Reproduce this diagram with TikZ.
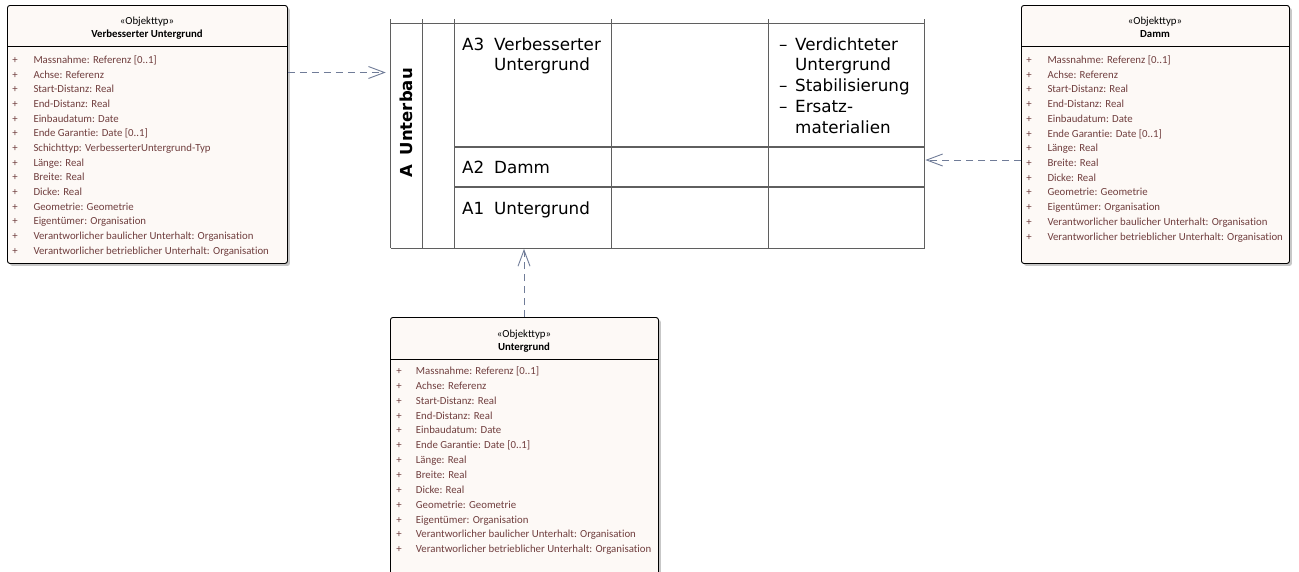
\documentclass[tikz,border=0pt]{standalone}
\usepackage{fontspec}
\setmainfont{Carlito}[Ligatures=NoCommon]
\newfontfamily\tabfont{DejaVu Sans}
\usetikzlibrary{arrows.meta,shadows}
\definecolor{boxfill}{RGB}{253,249,246}
\definecolor{attrtext}{RGB}{112,62,62}
\definecolor{linkcol}{RGB}{112,124,152}
\definecolor{gridcol}{RGB}{95,95,95}

\begin{document}
\begin{tikzpicture}[x=1pt,y=-1pt,
  umlbox/.style={draw=black, line width=0.9pt, fill=boxfill, rounded corners=2.5pt,
    inner sep=0pt, anchor=north west,
    drop shadow={shadow xshift=2.5pt, shadow yshift=-2.5pt, fill=black!22, opacity=1}},
  umltext/.style={inner sep=0pt, font=\fontsize{10.8}{13}\selectfont},
  stereo/.style={umltext, anchor=base},
  attr/.style={umltext, anchor=base west, text=attrtext},
  plus/.style={umltext, anchor=base, text=attrtext},
  grid/.style={draw=gridcol, line width=1.1pt},
  cell/.style={inner sep=0pt, anchor=base west, font=\tabfont\fontsize{16.75}{20.8}\selectfont},
  link/.style={draw=linkcol, line width=0.9pt, dash pattern=on 7pt off 5pt,
    -{Straight Barb[length=16pt, width=12pt, line width=0.9pt]}}
]
\useasboundingbox[fill=white] (0,0) rectangle (1299,571);

% ---------- layer table ----------
\node[inner sep=0pt, minimum width=533.8pt, minimum height=224.7pt, anchor=north west] (tab) at (390.7,23.3) {};
\foreach \x in {390.7,422.7,454.5,611.5,768.3,924.5}
  \draw[grid] (\x,19) -- (\x,248);
\draw[grid] (tab.north west) -- (tab.north east);
\draw[grid] (tab.south west) -- (tab.south east);
\draw[grid] (454.5,147) -- (924.5,147);
\draw[grid] (454.5,187) -- (924.5,187);

\node[cell, rotate=90, font=\tabfont\bfseries\fontsize{16.5}{20}\selectfont] (unterbau) at (412,178) {A\hspace{4pt} Unterbau};

\node[cell] (a3) at (462,50) {A3};
\node[cell] (a3t1) at (494,50) {Verbesserter};
\node[cell] (a3t2) at (494,70.8) {Untergrund};
\node[cell] (a2) at (462,173) {A2};
\node[cell] (a2t) at (494,173) {Damm};
\node[cell] (a1) at (462,214) {A1};
\node[cell] (a1t) at (494,214) {Untergrund};

\node[cell] (d1) at (779,50) {–};
\node[cell] (r1) at (795,50) {Verdichteter};
\node[cell] (r2) at (795,70.8) {Untergrund};
\node[cell] (d2) at (779,91.6) {–};
\node[cell] (r3) at (795,91.6) {Stabilisierung};
\node[cell] (d3) at (779,112.4) {–};
\node[cell] (r4) at (795,112.4) {Ersatz-};
\node[cell] (r5) at (795,133.2) {materialien};

% ---------- class: Verbesserter Untergrund ----------
\node[umlbox, minimum width=280pt, minimum height=258pt] (vu) at (7,5) {};
\draw[line width=0.9pt] (7,46) -- (287,46);
\node[stereo] (vu-st) at (147,24) {«Objekttyp»};
\node[stereo, font=\fontsize{10.8}{13}\selectfont\bfseries] (vu-nm) at (147,37.5) {Verbesserter Untergrund};
\foreach \t [count=\i from 0] in {%
  {Massnahme: Referenz [0..1]}, {Achse: Referenz}, {Start-Distanz: Real},
  {End-Distanz: Real}, {Einbaudatum: Date}, {Ende Garantie: Date [0..1]},
  {Schichttyp: VerbesserterUntergrund-Typ}, {Länge: Real}, {Breite: Real},
  {Dicke: Real}, {Geometrie: Geometrie}, {Eigentümer: Organisation},
  {Verantworlicher baulicher Unterhalt: Organisation},
  {Verantworlicher betrieblicher Unterhalt: Organisation}} {
  \node[plus] (vu-p\i) at (15,63.5+14.67*\i) {+};
  \node[attr] (vu-a\i) at (33.3,63.5+14.67*\i) {\t};
}

% ---------- class: Damm ----------
\node[umlbox, minimum width=268pt, minimum height=258pt] (damm) at (1021,5) {};
\draw[line width=0.9pt] (1021,46) -- (1289,46);
\node[stereo] (damm-st) at (1155,24) {«Objekttyp»};
\node[stereo, font=\fontsize{10.8}{13}\selectfont\bfseries] (damm-nm) at (1155,37.5) {Damm};
\foreach \t [count=\i from 0] in {%
  {Massnahme: Referenz [0..1]}, {Achse: Referenz}, {Start-Distanz: Real},
  {End-Distanz: Real}, {Einbaudatum: Date}, {Ende Garantie: Date [0..1]},
  {Länge: Real}, {Breite: Real}, {Dicke: Real}, {Geometrie: Geometrie},
  {Eigentümer: Organisation},
  {Verantworlicher baulicher Unterhalt: Organisation},
  {Verantworlicher betrieblicher Unterhalt: Organisation}} {
  \node[plus] (damm-p\i) at (1029,63.5+14.72*\i) {+};
  \node[attr] (damm-a\i) at (1047.3,63.5+14.72*\i) {\t};
}

% ---------- class: Untergrund (runs past the lower edge) ----------
\begin{scope}
\clip (0,0) rectangle (1299,571);
\node[umlbox, minimum width=268pt, minimum height=300pt] (ug) at (390,317) {};
\draw[line width=0.9pt] (390,359) -- (658,359);
\node[stereo] (ug-st) at (524,337.6) {«Objekttyp»};
\node[stereo, font=\fontsize{10.8}{13}\selectfont\bfseries] (ug-nm) at (524,350) {Untergrund};
\foreach \t [count=\i from 0] in {%
  {Massnahme: Referenz [0..1]}, {Achse: Referenz}, {Start-Distanz: Real},
  {End-Distanz: Real}, {Einbaudatum: Date}, {Ende Garantie: Date [0..1]},
  {Länge: Real}, {Breite: Real}, {Dicke: Real}, {Geometrie: Geometrie},
  {Eigentümer: Organisation},
  {Verantworlicher baulicher Unterhalt: Organisation},
  {Verantworlicher betrieblicher Unterhalt: Organisation}} {
  \node[plus] (ug-p\i) at (399,374.5+14.86*\i) {+};
  \node[attr] (ug-a\i) at (415.7,374.5+14.86*\i) {\t};
}
\end{scope}

% ---------- dependencies ----------
\coordinate (yvu) at (0,72.5);
\coordinate (ydamm) at (0,160);
\coordinate (xug) at (524,0);
\draw[link, shorten >=5pt] (vu.east |- yvu) -- (tab.west |- yvu);
\draw[link, shorten >=0.5pt] (damm.west |- ydamm) -- (tab.east |- ydamm);
\draw[link, shorten >=0.5pt] (xug |- ug.north) -- (xug |- tab.south);
\end{tikzpicture}
\end{document}
